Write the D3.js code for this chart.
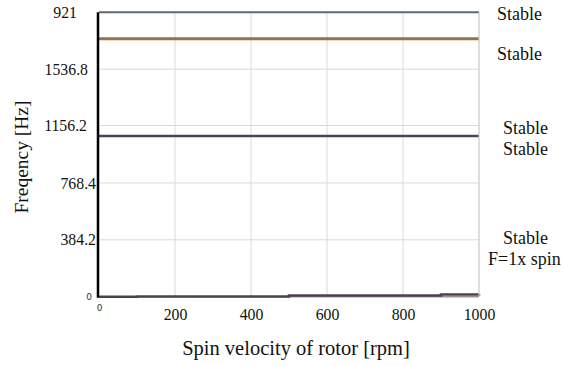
<!DOCTYPE html>
<html><head><meta charset="utf-8">
<script src="https://cdn.jsdelivr.net/npm/d3@7"></script>
<style>body{margin:0;background:#fff}svg{display:block}</style>
</head><body>
<svg id="c" width="563" height="366"></svg>
<script>
const rpm = [0, 100, 500, 900, 1000];
const mode1 = [1921, 1921, 1921, 1921, 1921];
const mode2 = [1743, 1743, 1743, 1743, 1743];
const mode3 = [1086, 1086, 1086, 1086, 1086];
const mode4 = [1085, 1085, 1085, 1085, 1085];
const mode5 = [0, 0, 0, 0, 0];
const spin = [0, 1.67, 8.33, 15, 16.67];
const yTickValues = [0, 384.2, 768.4, 1156.2, 1536.8, 1921];
const yTickLabels = ["0", "384.2", "768.4", "1156.2", "1536.8", "921"];
const xTickValues = [0, 200, 400, 600, 800, 1000];
const xTickLabels = ["0", "200", "400", "600", "800", "1000"];
const rightLabels = [
  {t:"Stable", y:14, x:497},
  {t:"Stable", y:54, x:497},
  {t:"Stable", y:128, x:503},
  {t:"Stable", y:149, x:503},
  {t:"Stable", y:237.5, x:503},
  {t:"F=1x spin", y:258.5, x:488}
];

const SERIF = '"Liberation Serif"';
const SANS = '"DejaVu Sans"';
const svg = d3.select("#c");
const L = 99, R = 479, T = 12.3, B = 296.7;
const x = d3.scaleLinear().domain([0, 1000]).range([L, R]);
const y = d3.scaleLinear().domain([0, 1921]).range([B, T]);

// grid
svg.append("g").selectAll("line").data(xTickValues.slice(1)).join("line")
  .attr("x1", d => x(d)).attr("x2", d => x(d)).attr("y1", T).attr("y2", B)
  .attr("stroke", "#d9d9d9").attr("stroke-width", 1);
svg.append("g").selectAll("line").data(yTickValues.slice(1, 5)).join("line")
  .attr("x1", L).attr("x2", R).attr("y1", d => y(d)).attr("y2", d => y(d))
  .attr("stroke", "#d9d9d9").attr("stroke-width", 1);

// y axis
const ya = svg.append("g").attr("transform", `translate(${L},0)`)
  .call(d3.axisLeft(y).tickValues(yTickValues).tickSize(0).tickPadding(5)
    .tickFormat((d, i) => yTickLabels[i]));
ya.select(".domain").remove();
ya.selectAll("text").style("font-family", SERIF).style("font-size", "15.8px").attr("fill", "#111");
const yOff = [7, 3, 3, 12, 11, 22];
ya.selectAll(".tick text").each(function(d, i){
  d3.select(this).attr("x", -yOff[i]);
  if (i === 0) d3.select(this).style("font-family", SANS).style("font-size", "9px").attr("fill", "#333");
});

// x axis
const xa = svg.append("g").attr("transform", `translate(0,${B})`)
  .call(d3.axisBottom(x).tickValues(xTickValues).tickSize(0).tickPadding(12)
    .tickFormat((d, i) => xTickLabels[i]));
xa.select(".domain").remove();
xa.selectAll("text").style("font-family", SERIF).style("font-size", "15.8px").attr("fill", "#111");
xa.selectAll(".tick text").filter((d, i) => i === 0)
  .style("font-family", SANS).style("font-size", "9px").attr("fill", "#333").attr("dy", "0.3em");

// lines
const line = d3.line().x((d, i) => x(rpm[i])).y(d => y(d));
const step = d3.line().x((d, i) => x(rpm[i])).y(d => y(d)).curve(d3.curveStepAfter);
const series = [
  {v: mode1, c: "#5d6a74", w: 2},
  {v: mode2, c: "#9a7146", w: 3},
  {v: mode4, c: "#5a5a78", w: 2},
  {v: mode3, c: "#45445f", w: 2.5},
  {v: mode5, c: "#a58e95", w: 1.5}
];
series.forEach(s => svg.append("path").attr("d", line(s.v)).attr("fill", "none")
  .attr("stroke", s.c).attr("stroke-width", s.w));
svg.append("path").attr("d", step(spin)).attr("fill", "none")
  .attr("stroke", "#4d4150").attr("stroke-width", 2.5);

// right border + left axis line
svg.append("line").attr("x1", R).attr("x2", R).attr("y1", T).attr("y2", B)
  .attr("stroke", "#cfcfcf").attr("stroke-width", 1);
svg.append("line").attr("x1", L - 1).attr("x2", L - 1).attr("y1", T).attr("y2", B + 1)
  .attr("stroke", "#000").attr("stroke-width", 2.5);

// right labels
svg.append("g").selectAll("text").data(rightLabels).join("text")
  .attr("x", d => d.x).attr("y", d => d.y).attr("dy", "0.35em")
  .style("font-family", SERIF).style("font-size", "18px").attr("fill", "#111")
  .text(d => d.t);

// titles
svg.append("text").attr("x", (L + R) / 2 + 7).attr("y", 355)
  .attr("text-anchor", "middle").style("font-family", SERIF).style("font-size", "20.5px").attr("fill", "#111")
  .text("Spin velocity of rotor [rpm]");
svg.append("text").attr("transform", "translate(28,157) rotate(-90)")
  .attr("text-anchor", "middle").style("font-family", SERIF).style("font-size", "19.5px").attr("fill", "#111")
  .text("Freqency [Hz]");
</script>
</body></html>
